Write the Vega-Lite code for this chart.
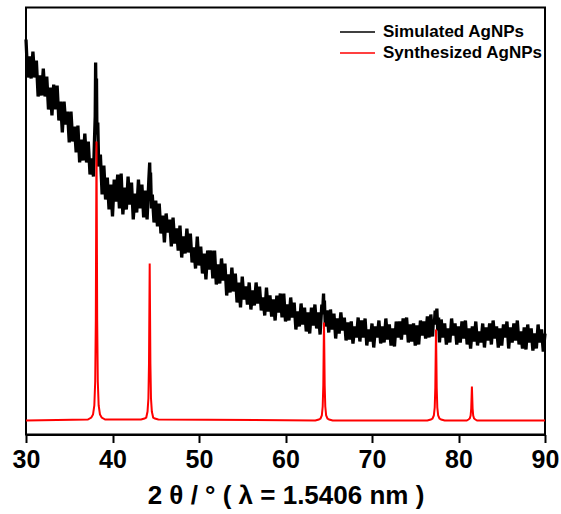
{
  "$schema": "https://vega.github.io/schema/vega-lite/v6.json",
  "width": 519,
  "height": 427,
  "autosize": {"type": "none"},
  "padding": {"left": 26, "top": 7.5, "right": 16, "bottom": 79.5},
  "background": "white",
  "config": {
    "view": {"stroke": "black", "strokeWidth": 2},
    "font": "Liberation Sans"
  },
  "datasets": {
    "sim": [
      {"t":30.0,"i":395},{"t":30.2,"i":357},{"t":30.4,"i":378},{"t":30.6,"i":356},{"t":30.8,"i":383},
      {"t":31.0,"i":357},{"t":31.2,"i":374},{"t":31.4,"i":338},{"t":31.6,"i":359},{"t":31.8,"i":339},
      {"t":32.0,"i":366},{"t":32.2,"i":338},{"t":32.4,"i":358},{"t":32.6,"i":325},{"t":32.8,"i":347},
      {"t":33.0,"i":319},{"t":33.2,"i":350},{"t":33.4,"i":325},{"t":33.6,"i":349},{"t":33.8,"i":314},
      {"t":34.0,"i":333},{"t":34.2,"i":302},{"t":34.4,"i":333},{"t":34.6,"i":310},{"t":34.8,"i":323},
      {"t":35.0,"i":292},{"t":35.2,"i":323},{"t":35.4,"i":293},{"t":35.6,"i":308},{"t":35.8,"i":282},
      {"t":36.0,"i":309},{"t":36.2,"i":272},{"t":36.4,"i":295},{"t":36.6,"i":274},{"t":36.8,"i":301},
      {"t":37.0,"i":272},{"t":37.2,"i":293},{"t":37.4,"i":260},{"t":37.6,"i":276},{"t":37.8,"i":258},
      {"t":37.9,"i":290},{"t":38.0,"i":318},{"t":38.05,"i":372},{"t":38.1,"i":330},{"t":38.15,"i":356},
      {"t":38.2,"i":300},{"t":38.3,"i":312},{"t":38.4,"i":268},{"t":38.6,"i":280},{"t":38.8,"i":240},
      {"t":39.0,"i":269},{"t":39.2,"i":235},{"t":39.4,"i":257},{"t":39.6,"i":225},{"t":39.8,"i":250},
      {"t":40.0,"i":218},{"t":40.2,"i":255},{"t":40.4,"i":233},{"t":40.6,"i":260},{"t":40.8,"i":226},
      {"t":41.0,"i":261},{"t":41.2,"i":220},{"t":41.4,"i":247},{"t":41.6,"i":225},{"t":41.8,"i":258},
      {"t":42.0,"i":230},{"t":42.2,"i":252},{"t":42.4,"i":215},{"t":42.6,"i":241},{"t":42.8,"i":222},
      {"t":43.0,"i":255},{"t":43.2,"i":226},{"t":43.4,"i":250},{"t":43.6,"i":217},{"t":43.8,"i":244},
      {"t":44.0,"i":215},{"t":44.2,"i":255},{"t":44.3,"i":272},{"t":44.35,"i":248},{"t":44.4,"i":262},
      {"t":44.5,"i":226},{"t":44.6,"i":240},{"t":44.8,"i":212},
      {"t":45.0,"i":234},{"t":45.2,"i":208},{"t":45.4,"i":231},{"t":45.6,"i":201},{"t":45.8,"i":219},
      {"t":46.0,"i":192},{"t":46.2,"i":221},{"t":46.4,"i":202},{"t":46.6,"i":215},{"t":46.8,"i":188},
      {"t":47.0,"i":217},{"t":47.2,"i":191},{"t":47.4,"i":206},{"t":47.6,"i":184},{"t":47.8,"i":209},
      {"t":48.0,"i":177},{"t":48.2,"i":198},{"t":48.4,"i":181},{"t":48.6,"i":206},{"t":48.8,"i":182},
      {"t":49.0,"i":201},{"t":49.2,"i":172},{"t":49.4,"i":187},{"t":49.6,"i":166},{"t":49.8,"i":198},
      {"t":50.0,"i":169},{"t":50.2,"i":188},{"t":50.4,"i":161},{"t":50.6,"i":181},{"t":50.8,"i":155},
      {"t":51.0,"i":184},{"t":51.2,"i":165},{"t":51.4,"i":184},{"t":51.6,"i":156},{"t":51.8,"i":184},
      {"t":52.0,"i":150},{"t":52.2,"i":170},{"t":52.4,"i":151},{"t":52.6,"i":176},{"t":52.8,"i":154},
      {"t":53.0,"i":171},{"t":53.2,"i":139},{"t":53.4,"i":160},{"t":53.6,"i":142},{"t":53.8,"i":167},
      {"t":54.0,"i":143},{"t":54.2,"i":161},{"t":54.4,"i":132},{"t":54.6,"i":152},{"t":54.8,"i":127},
      {"t":55.0,"i":158},{"t":55.2,"i":135},{"t":55.4,"i":148},{"t":55.6,"i":130},{"t":55.8,"i":152},
      {"t":56.0,"i":125},{"t":56.2,"i":144},{"t":56.4,"i":129},{"t":56.6,"i":152},{"t":56.8,"i":131},
      {"t":57.0,"i":148},{"t":57.2,"i":124},{"t":57.4,"i":137},{"t":57.6,"i":119},{"t":57.8,"i":147},
      {"t":58.0,"i":123},{"t":58.2,"i":139},{"t":58.4,"i":118},{"t":58.6,"i":135},{"t":58.8,"i":114},
      {"t":59.0,"i":139},{"t":59.2,"i":122},{"t":59.4,"i":141},{"t":59.6,"i":117},{"t":59.8,"i":141},
      {"t":60.0,"i":113},{"t":60.2,"i":130},{"t":60.4,"i":114},{"t":60.6,"i":137},{"t":60.8,"i":117},
      {"t":61.0,"i":132},{"t":61.2,"i":105},{"t":61.4,"i":123},{"t":61.6,"i":108},{"t":61.8,"i":131},
      {"t":62.0,"i":110},{"t":62.2,"i":127},{"t":62.4,"i":103},{"t":62.6,"i":122},{"t":62.8,"i":101},
      {"t":63.0,"i":127},{"t":63.2,"i":109},{"t":63.4,"i":130},{"t":63.6,"i":106},{"t":63.8,"i":122},
      {"t":64.0,"i":100},{"t":64.2,"i":130},{"t":64.3,"i":124},{"t":64.4,"i":141},{"t":64.45,"i":120},
      {"t":64.5,"i":134},{"t":64.6,"i":108},{"t":64.8,"i":124},
      {"t":65.0,"i":102},{"t":65.2,"i":125},{"t":65.4,"i":105},{"t":65.6,"i":121},{"t":65.8,"i":96},
      {"t":66.0,"i":116},{"t":66.2,"i":101},{"t":66.4,"i":122},{"t":66.6,"i":104},{"t":66.8,"i":117},
      {"t":67.0,"i":94},{"t":67.2,"i":112},{"t":67.4,"i":95},{"t":67.6,"i":113},{"t":67.8,"i":91},
      {"t":68.0,"i":108},{"t":68.2,"i":97},{"t":68.4,"i":117},{"t":68.6,"i":93},{"t":68.8,"i":114},
      {"t":69.0,"i":97},{"t":69.2,"i":116},{"t":69.4,"i":89},{"t":69.6,"i":105},{"t":69.8,"i":93},
      {"t":70.0,"i":111},{"t":70.2,"i":87},{"t":70.4,"i":108},{"t":70.6,"i":97},{"t":70.8,"i":114},
      {"t":71.0,"i":91},{"t":71.2,"i":108},{"t":71.4,"i":92},{"t":71.6,"i":116},{"t":71.8,"i":95},
      {"t":72.0,"i":110},{"t":72.2,"i":89},{"t":72.4,"i":106},{"t":72.6,"i":88},{"t":72.8,"i":113},
      {"t":73.0,"i":97},{"t":73.2,"i":113},{"t":73.4,"i":95},{"t":73.6,"i":116},{"t":73.8,"i":100},
      {"t":74.0,"i":117},{"t":74.2,"i":92},{"t":74.4,"i":110},{"t":74.6,"i":93},{"t":74.8,"i":111},
      {"t":75.0,"i":89},{"t":75.2,"i":109},{"t":75.4,"i":90},{"t":75.6,"i":114},{"t":75.8,"i":99},
      {"t":76.0,"i":113},{"t":76.2,"i":96},{"t":76.4,"i":118},{"t":76.6,"i":97},{"t":76.8,"i":120},
      {"t":77.0,"i":98},{"t":77.1,"i":115},{"t":77.2,"i":110},{"t":77.3,"i":124},{"t":77.4,"i":112},
      {"t":77.5,"i":126},{"t":77.6,"i":104},{"t":77.7,"i":117},
      {"t":77.8,"i":92},{"t":78.0,"i":115},{"t":78.2,"i":97},{"t":78.4,"i":111},{"t":78.6,"i":90},
      {"t":78.8,"i":106},{"t":79.0,"i":92},{"t":79.2,"i":116},{"t":79.4,"i":99},{"t":79.6,"i":111},
      {"t":79.8,"i":90},{"t":80.0,"i":108},{"t":80.2,"i":92},{"t":80.4,"i":113},{"t":80.6,"i":96},
      {"t":80.8,"i":114},{"t":81.0,"i":90},{"t":81.2,"i":106},{"t":81.4,"i":86},{"t":81.6,"i":108},
      {"t":81.8,"i":93},{"t":82.0,"i":113},{"t":82.2,"i":89},{"t":82.4,"i":103},{"t":82.6,"i":92},
      {"t":82.8,"i":111},{"t":83.0,"i":87},{"t":83.2,"i":107},{"t":83.4,"i":94},{"t":83.6,"i":111},
      {"t":83.8,"i":90},{"t":84.0,"i":114},{"t":84.2,"i":96},{"t":84.4,"i":108},{"t":84.6,"i":87},
      {"t":84.8,"i":106},{"t":85.0,"i":89},{"t":85.2,"i":110},{"t":85.4,"i":97},{"t":85.6,"i":113},
      {"t":85.8,"i":86},{"t":86.0,"i":107},{"t":86.2,"i":92},{"t":86.4,"i":111},{"t":86.6,"i":94},
      {"t":86.8,"i":114},{"t":87.0,"i":90},{"t":87.2,"i":103},{"t":87.4,"i":86},{"t":87.6,"i":107},
      {"t":87.8,"i":85},{"t":88.0,"i":110},{"t":88.2,"i":92},{"t":88.4,"i":106},{"t":88.6,"i":84},
      {"t":88.8,"i":101},{"t":89.0,"i":86},{"t":89.2,"i":110},{"t":89.4,"i":92},{"t":89.6,"i":105},
      {"t":89.8,"i":83},{"t":90.0,"i":101}
    ],
    "syn": [
      {"t":30,"i":14},
      {"t":37.15,"i":15},{"t":37.55,"i":17},{"t":37.75,"i":20},{"t":37.9,"i":29},{"t":38.0,"i":53},
      {"t":38.07,"i":114},{"t":38.11,"i":207},{"t":38.15,"i":293},{"t":38.19,"i":207},{"t":38.23,"i":114},
      {"t":38.3,"i":53},{"t":38.4,"i":29},{"t":38.55,"i":20},{"t":38.75,"i":17},{"t":39.15,"i":15},
      {"t":43.3,"i":15},{"t":43.7,"i":16},{"t":43.9,"i":17},{"t":44.05,"i":23},{"t":44.15,"i":36},
      {"t":44.22,"i":71},{"t":44.26,"i":122},{"t":44.3,"i":171},{"t":44.34,"i":122},{"t":44.38,"i":71},
      {"t":44.45,"i":36},{"t":44.55,"i":23},{"t":44.7,"i":17},{"t":44.9,"i":16},{"t":45.3,"i":15},
      {"t":63.45,"i":14},{"t":63.85,"i":15},{"t":64.05,"i":16},{"t":64.2,"i":19},{"t":64.3,"i":28},
      {"t":64.37,"i":49},{"t":64.41,"i":82},{"t":64.45,"i":112},{"t":64.49,"i":82},{"t":64.53,"i":49},
      {"t":64.6,"i":28},{"t":64.7,"i":19},{"t":64.85,"i":16},{"t":65.05,"i":15},{"t":65.45,"i":14},
      {"t":76.4,"i":14},{"t":76.8,"i":15},{"t":77.0,"i":16},{"t":77.15,"i":19},{"t":77.25,"i":27},
      {"t":77.32,"i":47},{"t":77.36,"i":77},{"t":77.4,"i":105},{"t":77.44,"i":77},{"t":77.48,"i":47},
      {"t":77.55,"i":27},{"t":77.65,"i":19},{"t":77.8,"i":16},{"t":78.0,"i":15},{"t":78.4,"i":14},
      {"t":80.55,"i":14},{"t":80.95,"i":14},{"t":81.15,"i":15},{"t":81.3,"i":16},{"t":81.4,"i":19},
      {"t":81.47,"i":26},{"t":81.51,"i":37},{"t":81.55,"i":48},{"t":81.59,"i":37},{"t":81.63,"i":26},
      {"t":81.7,"i":19},{"t":81.8,"i":16},{"t":81.95,"i":15},{"t":82.15,"i":14},{"t":82.55,"i":14},
      {"t":90,"i":14}
    ]
  },
  "layer": [
    {
      "data": {"name": "sim"},
      "mark": {"type": "line", "strokeWidth": 3.3, "strokeJoin": "miter", "strokeMiterLimit": 3},
      "encoding": {
        "x": {
          "field": "t", "type": "quantitative",
          "scale": {"domain": [30, 90], "nice": false, "zero": false},
          "axis": {
            "values": [30, 40, 50, 60, 70, 80, 90],
            "grid": false,
            "domainColor": "black", "domainWidth": 2,
            "tickColor": "black", "tickWidth": 2, "tickSize": 8,
            "labelFont": "Liberation Sans", "labelFontSize": 25, "labelFontWeight": "bold",
            "labelColor": "black", "labelPadding": 5, "labelFlush": false,
            "title": "2 θ / ° ( λ = 1.5406 nm )",
            "titleFont": "Liberation Sans", "titleFontSize": 26, "titleFontWeight": "bold",
            "titleColor": "black", "titlePadding": 10
          }
        },
        "y": {
          "field": "i", "type": "quantitative",
          "scale": {"domain": [0, 427], "nice": false, "zero": true},
          "axis": null
        },
        "color": {
          "datum": "Simulated AgNPs", "type": "nominal",
          "scale": {"domain": ["Simulated AgNPs", "Synthesized AgNPs"], "range": ["#000000", "#ff0000"]},
          "legend": {
            "title": null, "orient": "none", "legendX": 313, "legendY": 15,
            "symbolType": "stroke", "symbolSize": 1225, "symbolStrokeWidth": 1.5,
            "clipHeight": 19, "rowPadding": 2, "padding": 0,
            "labelFont": "Liberation Sans", "labelFontSize": 17, "labelFontWeight": "bold",
            "labelColor": "black", "labelOffset": 7
          }
        }
      }
    },
    {
      "data": {"name": "syn"},
      "mark": {"type": "line", "strokeWidth": 2},
      "encoding": {
        "x": {"field": "t", "type": "quantitative"},
        "y": {"field": "i", "type": "quantitative"},
        "color": {"datum": "Synthesized AgNPs", "type": "nominal"}
      }
    }
  ]
}
